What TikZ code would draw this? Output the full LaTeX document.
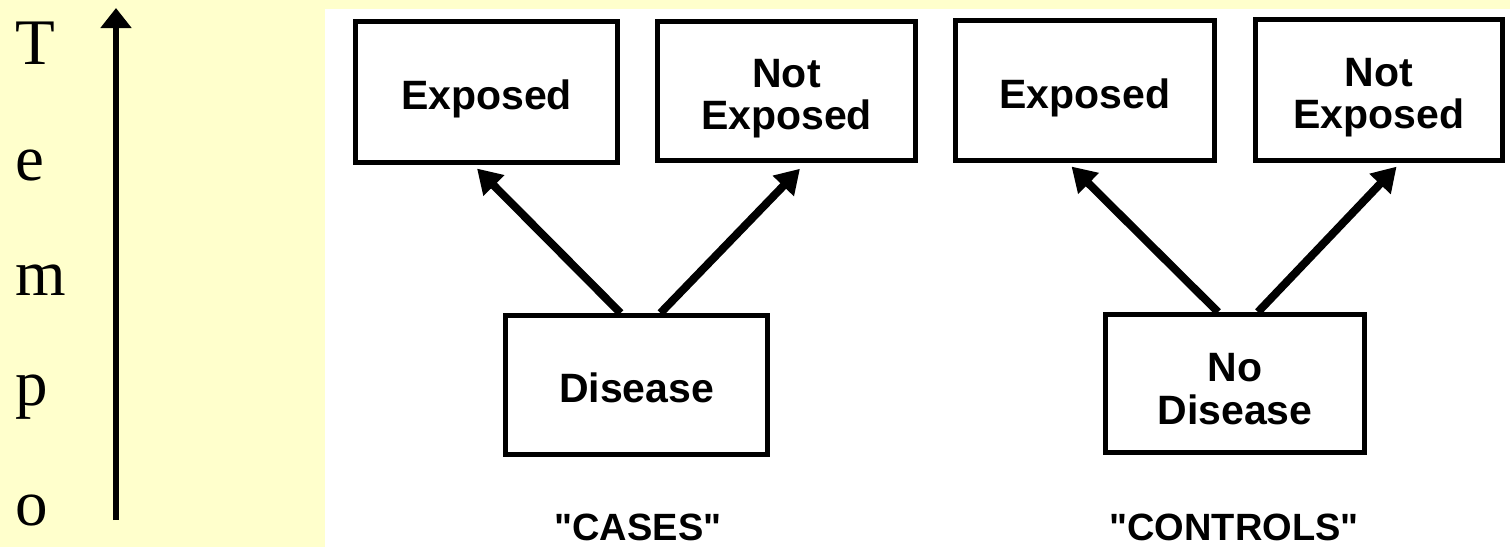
\documentclass[tikz,border=0pt]{standalone}
\usepackage{fontspec}
\setmainfont{Liberation Serif}
\newfontfamily\hv{Liberation Sans}
\usetikzlibrary{arrows.meta}
\definecolor{bgyellow}{RGB}{255,255,204}
\newcommand{\lowertext}[2]{\raisebox{-#1}[\height][\depth]{\begin{tabular}{@{}c@{}}#2\end{tabular}}}
\tikzset{
  box/.style={draw=black, line width=5pt, fill=white, inner sep=0pt, align=center,
    font=\hv\bfseries\fontsize{41}{42}\selectfont},
  arr/.style={line width=8pt, -{Triangle[length=24pt,width=28pt]}},
  lbl/.style={font=\hv\bfseries\fontsize{38}{40}\selectfont, inner sep=0pt},
  tletter/.style={anchor=base west, inner sep=0pt, font=\fontsize{65}{70}\selectfont}
}
\begin{document}
\begin{tikzpicture}[x=1pt,y=-1pt]
\useasboundingbox (0,0) rectangle (1510,547);
\fill[bgyellow] (0,0) rectangle (1510,547);
\fill[white] (325,9) rectangle (1510,547);
% Tempo
\node[tletter] (t1) at (15,64) {T};
\node[tletter] (t2) at (15,180) {e};
\node[tletter] (t3) at (15,295) {m};
\node[tletter] (t4) at (15,405) {p};
\node[tletter] (t5) at (15,525) {o};
\coordinate (ta) at (116,520);
\coordinate (tb) at (116,8);
\draw[line width=6pt, -{Triangle[length=20pt,width=30pt]}] (ta) -- (tb);
% boxes
\node[box, minimum width=262pt, minimum height=141pt] (e1) at (486.5,92) {\lowertext{9pt}{Exposed}};
\node[box, minimum width=258pt, minimum height=139pt] (n1) at (786.5,91) {\lowertext{9pt}{Not\\Exposed}};
\node[box, minimum width=259pt, minimum height=140pt] (e2) at (1085,90.5) {\lowertext{9pt}{Exposed}};
\node[box, minimum width=247pt, minimum height=141pt] (n2) at (1379,90) {\lowertext{9pt}{Not\\Exposed}};
\node[box, minimum width=262pt, minimum height=139pt] (d) at (636.5,385) {\lowertext{9pt}{Disease}};
\node[box, minimum width=259pt, minimum height=138pt] (nd) at (1235,383.5) {\lowertext{11pt}{No\\Disease}};
% arrows
\draw[arr, shorten >=5pt] ([xshift=-16pt]d.north) -- ([xshift=-13pt]e1.south);
\draw[arr, shorten >=8pt] ([xshift=24pt]d.north) -- ([xshift=19pt]n1.south);
\draw[arr, shorten >=5pt] ([xshift=-17pt]nd.north) -- ([xshift=-17pt]e2.south);
\draw[arr, shorten >=5pt] ([xshift=23pt]nd.north) -- ([xshift=21pt]n2.south);
% labels
\node[lbl] (cases) at (638,527) {"CASES"};
\node[lbl] (controls) at (1234,527) {"CONTROLS"};
\end{tikzpicture}
\end{document}
